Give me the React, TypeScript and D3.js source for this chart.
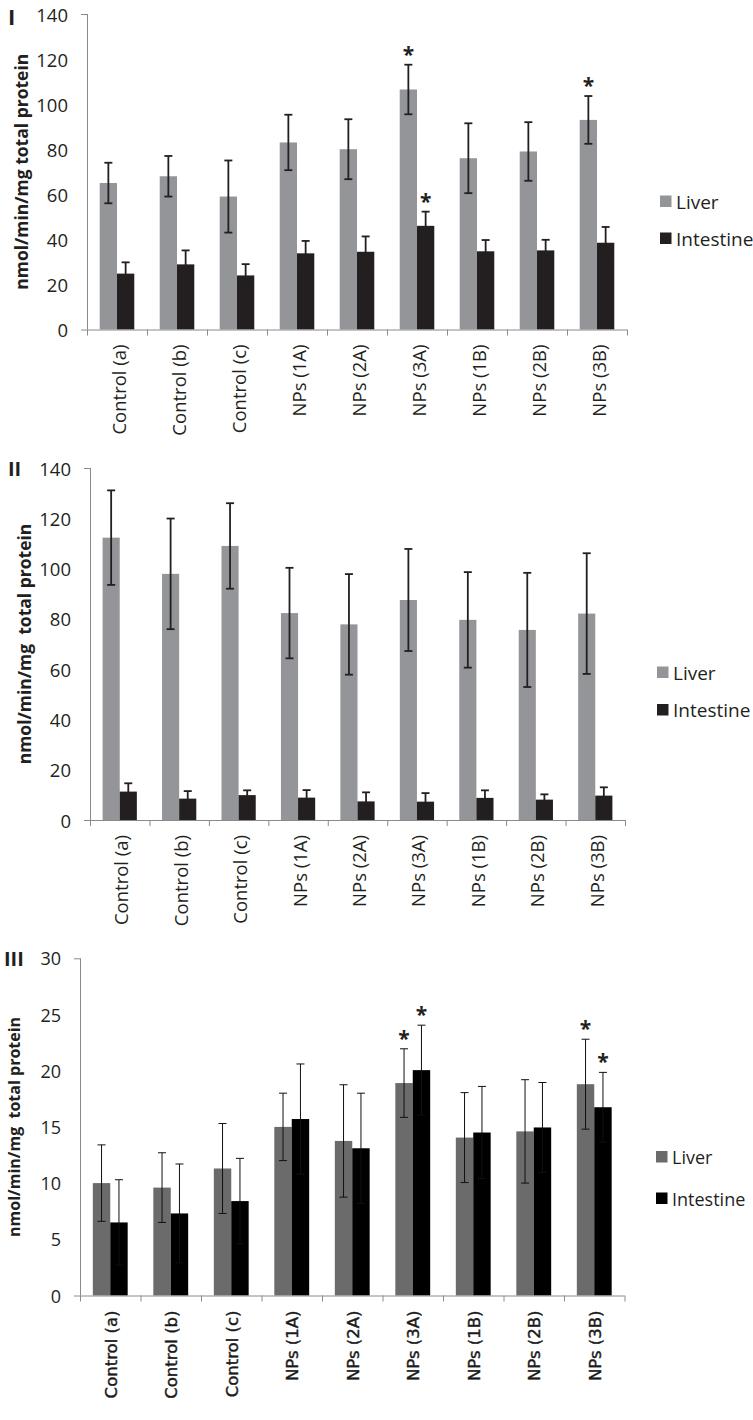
import React from "react";
import * as d3 from "d3";

const categories = ["Control (a)", "Control (b)", "Control (c)", "NPs (1A)", "NPs (2A)", "NPs (3A)", "NPs (1B)", "NPs (2B)", "NPs (3B)"];
const seriesNames = ["Liver", "Intestine"];

// Panel I
const p1Liver = [65, 68, 59, 83, 80, 106.5, 76, 79, 93];
const p1LiverErr = [9, 9, 16, 12.3, 13.3, 11, 15.5, 13, 10.6];
const p1Intestine = [24.8, 28.9, 24, 33.8, 34.5, 46, 34.7, 35.1, 38.5];
const p1IntestineErr = [5, 6.2, 5, 5.5, 6.8, 6.3, 5, 4.7, 7];
const p1LiverSig = ["NPs (3A)", "NPs (3B)"];
const p1IntestineSig = ["NPs (3A)"];
const p1Ticks = [0, 20, 40, 60, 80, 100, 120, 140];

// Panel II
const p2Liver = [112.3, 97.9, 109, 82.3, 77.8, 87.5, 79.6, 75.6, 82.1];
const p2LiverErr = [18.8, 22, 17, 18, 20, 20.3, 19, 22.7, 24];
const p2Intestine = [11.3, 8.5, 9.9, 8.9, 7.4, 7.3, 8.8, 8.1, 9.7];
const p2IntestineErr = [3.3, 3, 1.9, 3, 3.6, 3.4, 3, 2.1, 3.3];
const p2LiverSig: string[] = [];
const p2IntestineSig: string[] = [];
const p2Ticks = [0, 20, 40, 60, 80, 100, 120, 140];

// Panel III
const p3Liver = [10.0, 9.6, 11.3, 15.0, 13.75, 18.9, 14.05, 14.6, 18.8];
const p3LiverErr = [3.4, 3.1, 4, 3, 5, 3.05, 4, 4.6, 4];
const p3Intestine = [6.5, 7.3, 8.4, 15.7, 13.1, 20.05, 14.5, 14.95, 16.75];
const p3IntestineErr = [3.8, 4.4, 3.8, 4.9, 4.9, 4, 4.1, 4, 3.1];
const p3LiverSig = ["NPs (3A)", "NPs (3B)"];
const p3IntestineSig = ["NPs (3A)", "NPs (3B)"];
const p3Ticks = [0, 5, 10, 15, 20, 25, 30];

type PanelProps = {
  label: string;
  title: string;
  liver: number[];
  liverErr: number[];
  intestine: number[];
  intestineErr: number[];
  liverSig: string[];
  intestineSig: string[];
  ticks: number[];
  x0: number;
  x1: number;
  yTop: number;
  yBottom: number;
  colors: [string, string];
  errColor: string;
  errWidth: number;
  axisColor: string;
  tickFont: string;
  tickSize: number;
  xFont: string;
  xSize: number;
  xWeight: string | number;
  xStroke: number;
  xColor: string;
  legendFont: string;
  legendSize: number;
  legendX: number;
  legendY: [number, number];
  titleX: number;
  titleSize: number;
  labelX: number;
  labelY: number;
  labelSize: number;
  labelFont: string;
};

function Panel(p: PanelProps) {
  const x = d3.scaleBand<string>().domain(categories).range([p.x0, p.x1]).padding(0);
  const y = d3.scaleLinear().domain([p.ticks[0], p.ticks[p.ticks.length - 1]]).range([p.yBottom, p.yTop]);
  const bw = x.bandwidth() * 0.288;
  const series = [
    { vals: p.liver, errs: p.liverErr, sig: p.liverSig, off: -bw, color: p.colors[0] },
    { vals: p.intestine, errs: p.intestineErr, sig: p.intestineSig, off: 0, color: p.colors[1] },
  ];
  const boundaries = d3.range(categories.length + 1).map((i) => p.x0 + i * x.bandwidth());
  const capHalf = 4;
  return (
    <g>
      {series.map((s, si) =>
        categories.map((c, i) => {
          const cx = (x(c) as number) + x.bandwidth() / 2 + s.off;
          return (
            <rect key={`b${si}-${i}`} x={cx} y={y(s.vals[i])} width={bw} height={y(0) - y(s.vals[i])} fill={s.color} />
          );
        })
      )}
      {series.map((s, si) =>
        categories.map((c, i) => {
          const cx = (x(c) as number) + x.bandwidth() / 2 + s.off + bw / 2;
          const hi = y(s.vals[i] + s.errs[i]);
          const lo = y(s.vals[i] - s.errs[i]);
          return (
            <g key={`e${si}-${i}`} stroke={p.errColor} strokeWidth={p.errWidth}>
              <line x1={cx} x2={cx} y1={hi} y2={lo} />
              <line x1={cx - capHalf} x2={cx + capHalf} y1={hi} y2={hi} />
              <line x1={cx - capHalf} x2={cx + capHalf} y1={lo} y2={lo} />
            </g>
          );
        })
      )}
      {series.map((s, si) =>
        s.sig.map((c) => {
          const i = categories.indexOf(c);
          const cx = (x(c) as number) + x.bandwidth() / 2 + s.off + bw / 2;
          const hi = y(s.vals[i] + s.errs[i]);
          return (
            <text key={`s${si}-${c}`} x={cx} y={hi - 3} textAnchor="middle" fontFamily="'Open Sans'" fontWeight="bold" fontSize={21} fill="#231f20">
              *
            </text>
          );
        })
      )}
      <line x1={p.x0 + 0.5} x2={p.x0 + 0.5} y1={p.yTop} y2={p.yBottom} stroke={p.axisColor} strokeWidth={1} />
      <line x1={p.x0 - 6} x2={p.x0 + 0.5} y1={p.yTop + 0.5} y2={p.yTop + 0.5} stroke={p.axisColor} strokeWidth={1} />
      <line x1={p.x0 - 6} x2={p.x1} y1={p.yBottom + 0.5} y2={p.yBottom + 0.5} stroke={p.axisColor} strokeWidth={1} />
      {boundaries.map((bx, i) => (
        <line key={`t${i}`} x1={bx + 0.5} x2={bx + 0.5} y1={p.yBottom} y2={p.yBottom + 6} stroke={p.axisColor} strokeWidth={1} />
      ))}
      {p.ticks.map((t) => (
        <text key={`yt${t}`} x={p.x0 - 19} y={y(t)} textAnchor="end" dominantBaseline="central" fontFamily={p.tickFont} fontSize={p.tickSize} fill="#231f20">
          {t}
        </text>
      ))}
      {categories.map((c) => {
        const cx = (x(c) as number) + x.bandwidth() / 2 + 1;
        const ty = p.yBottom + 15;
        return (
          <text key={`xl${c}`} transform={`translate(${cx},${ty}) rotate(-90)`} textAnchor="end" dominantBaseline="central" fontFamily={p.xFont} fontSize={p.xSize} fontWeight={p.xWeight} fill={p.xColor} stroke={p.xStroke > 0 ? p.xColor : "none"} strokeWidth={p.xStroke}>
            {c}
          </text>
        );
      })}
      <text transform={`translate(${p.titleX},${(p.yTop + p.yBottom) / 2}) rotate(-90)`} textAnchor="middle" dominantBaseline="central" fontFamily="'Open Sans'" fontWeight="bold" fontSize={p.titleSize} fill="#231f20" style={{ whiteSpace: "pre" }}>
        {p.title}
      </text>
      <text x={p.labelX} y={p.labelY} fontFamily={p.labelFont} fontWeight="bold" fontSize={p.labelSize} fill="#231f20">
        {p.label}
      </text>
      {seriesNames.map((n, i) => (
        <g key={`lg${n}`}>
          <rect x={p.legendX} y={p.legendY[i]} width={11.5} height={11.5} fill={p.colors[i]} />
          <text x={p.legendX + 16} y={p.legendY[i] + 6} dominantBaseline="central" fontFamily={p.legendFont} fontSize={p.legendSize} fill="#231f20">
            {n}
          </text>
        </g>
      ))}
    </g>
  );
}

export default function App() {
  const common = {
    errColor: "#231f20",
    errWidth: 1.8,
    axisColor: "#8a8a8a",
    tickFont: "'Open Sans'",
    tickSize: 18.5,
    xFont: "'Open Sans'",
    xSize: 18.5,
    xWeight: "normal",
    xStroke: 0,
    xColor: "#231f20",
    legendFont: "'Open Sans'",
    legendSize: 19,
    titleSize: 17.5,
    labelFont: "'Open Sans'",
  };
  return (
    <svg width={753} height={1420} style={{ position: "absolute", left: 0, top: 0, background: "#fff" }}>
      <rect width={753} height={1420} fill="#fff" />
      <Panel
        {...common}
        label="I"
        title="nmol/min/mg total protein"
        liver={p1Liver}
        liverErr={p1LiverErr}
        intestine={p1Intestine}
        intestineErr={p1IntestineErr}
        liverSig={p1LiverSig}
        intestineSig={p1IntestineSig}
        ticks={p1Ticks}
        x0={87}
        x1={627}
        yTop={14}
        yBottom={329.5}
        colors={["#939598", "#231f20"]}
        legendX={660}
        legendY={[195.5, 232.5]}
        titleX={21}
        labelX={8}
        labelY={25}
        labelSize={22}
      />
      <Panel
        {...common}
        label="II"
        title="nmol/min/mg  total protein"
        liver={p2Liver}
        liverErr={p2LiverErr}
        intestine={p2Intestine}
        intestineErr={p2IntestineErr}
        liverSig={p2LiverSig}
        intestineSig={p2IntestineSig}
        ticks={p2Ticks}
        x0={90}
        x1={625}
        yTop={468}
        yBottom={820}
        colors={["#939598", "#231f20"]}
        legendX={657}
        legendY={[666.5, 704]}
        titleX={24}
        labelX={8}
        labelY={476}
        labelSize={20}
      />
      <Panel
        {...common}
        label="III"
        title="nmol/min/mg  total protein"
        liver={p3Liver}
        liverErr={p3LiverErr}
        intestine={p3Intestine}
        intestineErr={p3IntestineErr}
        liverSig={p3LiverSig}
        intestineSig={p3IntestineSig}
        ticks={p3Ticks}
        x0={80}
        x1={624.5}
        yTop={958.3}
        yBottom={1295.5}
        colors={["#6b6b6b", "#000000"]}
        errColor="#111"
        errWidth={1}
        axisColor="#8a8a8a"
        tickSize={18}
        xFont="'DejaVu Sans'"
        xSize={16.5}
        xWeight="normal"
        xStroke={0.4}
        xColor="#1a1a1a"
        legendSize={18}
        legendX={656}
        legendY={[1151, 1192.5]}
        titleX={14}
        titleSize={16}
        labelX={4}
        labelY={966}
        labelSize={20}
      />
    </svg>
  );
}
